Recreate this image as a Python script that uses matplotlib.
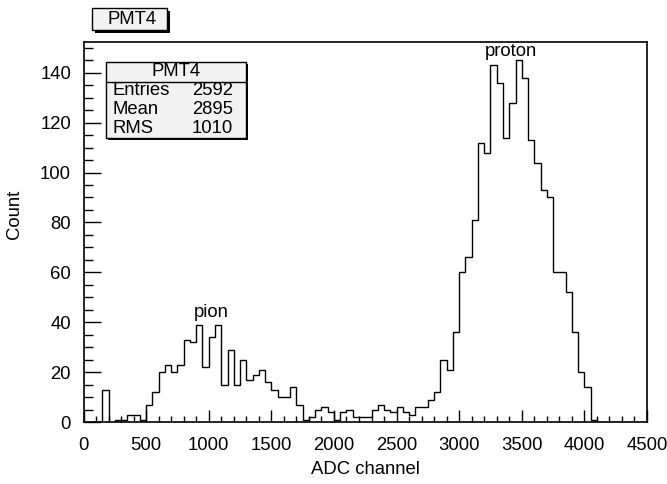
import numpy as np
import matplotlib.pyplot as plt
from matplotlib.patches import Rectangle
from matplotlib.ticker import MultipleLocator

plt.rcParams['font.family'] = ['Liberation Sans', 'DejaVu Sans']

# PMT4 ADC spectrum, 50-channel bins from 0 to 4500 (bins above 4050 are empty)
adc_min = 0
adc_max = 4500
n_bins = 90
counts = [0, 0, 0, 13, 0, 1, 1, 3, 3, 1,
          7, 12, 20, 23, 20, 23, 33, 32, 39, 22,
          34, 39, 15, 29, 15, 25, 17, 19, 21, 16,
          13, 10, 10, 14, 7, 1, 2, 5, 6, 4,
          1, 4, 5, 2, 2, 2, 5, 7, 5, 4,
          6, 4, 3, 6, 6, 9, 12, 25, 21, 36,
          60, 66, 81, 112, 108, 143, 136, 114, 128, 145,
          138, 113, 104, 93, 90, 60, 60, 52, 36, 20,
          14, 1]

hist_title = 'PMT4'
stat_names = ['Entries', 'Mean', 'RMS']
stat_values = ['2592', '2895', '1010']

peak_labels = ['pion', 'proton']
peak_pos = [(1020, 42.0), (3416, 146.5)]

FS = 13.3
W, H = 667, 484
counts = np.array(counts + [0] * (n_bins - len(counts)))
edges = np.linspace(adc_min, adc_max, n_bins + 1)

fig = plt.figure(figsize=(W / 100, H / 100), dpi=100)
fig.patch.set_facecolor('white')

# frame in pixels: left, right, top, bottom
fl, fr, ft, fb = 83.5, 647, 42, 422.3
ax = fig.add_axes([fl / W, (H - fb) / H, (fr - fl) / W, (fb - ft) / H])

ax.stairs(counts, edges, color='black', lw=1.0)

ymax = counts.max() * 1.05
ax.set_xlim(adc_min, adc_max)
ax.set_ylim(0, ymax)

ax.xaxis.set_major_locator(MultipleLocator(500))
ax.xaxis.set_minor_locator(MultipleLocator(100))
ax.yaxis.set_major_locator(MultipleLocator(20))
ax.yaxis.set_minor_locator(MultipleLocator(5))
ax.tick_params(axis='both', which='both', direction='in', top=False, right=False,
               labelsize=FS, color='black', width=1.0)
ax.tick_params(axis='x', which='major', length=8.4, pad=10.5)
ax.tick_params(axis='x', which='minor', length=4.1)
ax.tick_params(axis='y', which='major', length=12.2, pad=9)
ax.tick_params(axis='y', which='minor', length=6.7)
for sp in ax.spines.values():
    sp.set_linewidth(1.2)

ax.set_xlabel('ADC channel', fontsize=FS, va='center')
ax.xaxis.set_label_coords(0.5, (fb - 469) / (fb - ft))
ax.set_ylabel('Count', fontsize=FS, va='center')
ax.yaxis.set_label_coords((14 - fl) / (fr - fl), (fb - 214) / (fb - ft))

for lab, (x, y) in zip(peak_labels, peak_pos):
    ax.text(x, y, lab, ha='center', va='baseline', fontsize=FS)


def px_box(x0, y0, x1, y1, shadow=3):
    # draw a ROOT-like box with a drop shadow, pixel coordinates from top-left
    tr = fig.transFigure
    fig.patches.append(Rectangle(((x0 + shadow) / W, (H - y1 - shadow) / H),
                                 (x1 - x0) / W, (y1 - y0) / H,
                                 transform=tr, facecolor='black', edgecolor='none'))
    fig.patches.append(Rectangle((x0 / W, (H - y1) / H), (x1 - x0) / W, (y1 - y0) / H,
                                 transform=tr, facecolor='#f2f2f2', edgecolor='black',
                                 lw=1.0))


def px_text(x, y, s, size=FS, **kw):
    fig.text(x / W, (H - y) / H, s, va='center', fontsize=size, **kw)


# title box
px_box(92, 8, 167, 30)
px_text(132, 19.5, hist_title, ha='center')

# statistics box
px_box(106, 62, 246, 138, shadow=2)
fig.add_artist(plt.Line2D([106 / W, 246 / W], [(H - 81.5) / H] * 2,
                          transform=fig.transFigure, color='black', lw=1.0))
px_text(176, 71.7, hist_title, ha='center')
for i, (name, val) in enumerate(zip(stat_names, stat_values)):
    y = 90.7 + 18.8 * i
    px_text(113, y, name, ha='left')
    px_text(233, y, val, ha='right')

fig.savefig('out.png', dpi=100)
